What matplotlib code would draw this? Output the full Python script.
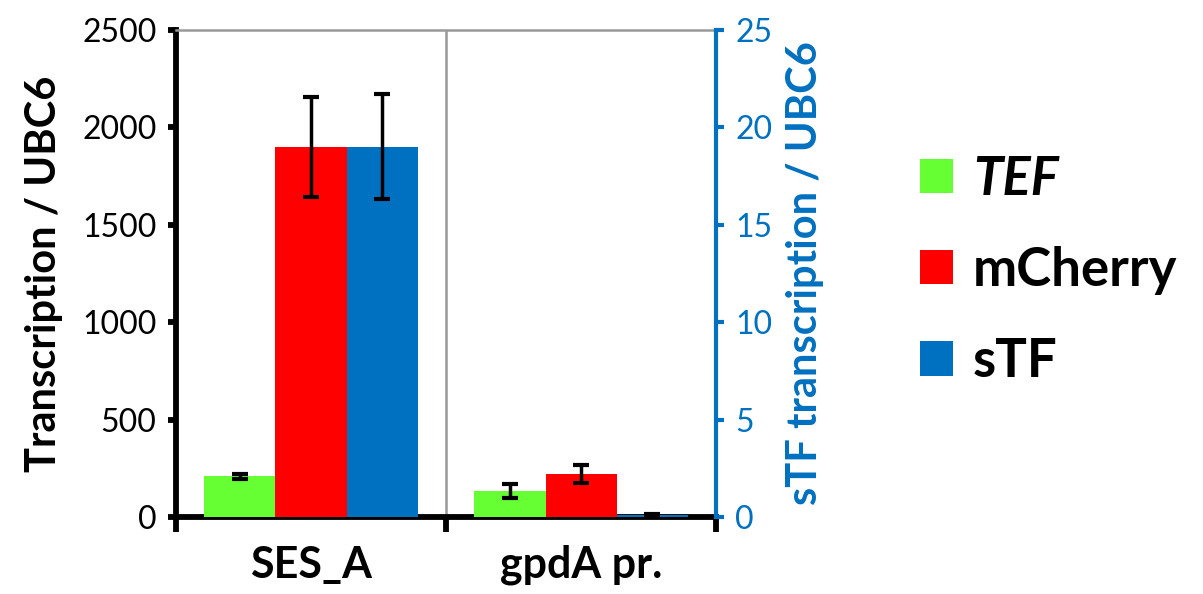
import matplotlib.pyplot as plt
import numpy as np

plt.rcParams['font.family'] = ['Lato', 'DejaVu Sans']

groups = ["SES_A", "gpdA pr."]
tef = [208, 135]
tef_err = [15, 35]
mcherry = [1900, 222]
mcherry_err = [255, 45]
# sTF on the right axis
stf = [19.0, 0.08]
stf_err = [2.7, 0.1]

c_tef = "#66ff33"
c_mch = "#ff0000"
c_stf = "#0070c0"

fig = plt.figure(figsize=(12.03, 5.94), dpi=100)
ax = fig.add_axes([0.1463, 0.1296, 0.4489, 0.8199])
ax2 = ax.twinx()

x = np.arange(len(groups))
w = 0.263
ekw = dict(elinewidth=2.5, capthick=3, capsize=6, ecolor="black")

b1 = ax.bar(x - w, tef, w, color=c_tef, yerr=tef_err, error_kw=ekw, label="TEF", zorder=3)
b2 = ax.bar(x, mcherry, w, color=c_mch, yerr=mcherry_err, error_kw=ekw, label="mCherry", zorder=3)
b3 = ax2.bar(x + w, stf, w, color=c_stf, yerr=stf_err, error_kw=ekw, label="sTF", zorder=3)

ax.set_xlim(-0.5, 1.5)
ax.set_ylim(0, 2500)
ax2.set_ylim(0, 25)
ax.set_yticks(np.arange(0, 2501, 500))
ax2.set_yticks(np.arange(0, 26, 5))

ax.axvline(0.5, color="#999999", lw=1.8, zorder=1)

ax.spines["top"].set_color("#999999")
ax.spines["top"].set_linewidth(1.8)
ax2.spines["top"].set_visible(False)
ax.spines["right"].set_visible(False)
ax2.spines["left"].set_visible(False)
ax2.spines["bottom"].set_visible(False)
ax.spines["left"].set_linewidth(4.2)
ax.spines["bottom"].set_linewidth(4.2)
ax2.spines["right"].set_linewidth(3)
ax2.spines["right"].set_color(c_stf)

ax.set_xticks([-0.5, 0.5, 1.5])
ax.set_xticklabels([])
ax.set_xticks(x, minor=True)
ax.set_xticklabels(groups, minor=True, fontsize=31, fontweight="bold")
ax.tick_params(axis="x", which="major", length=11, width=4.2, direction="out")
ax.tick_params(axis="x", which="minor", length=0, pad=20)

ax.tick_params(axis="y", length=6, width=4.2, labelsize=23, pad=8)
ax2.tick_params(axis="y", length=6, width=3, color=c_stf, labelcolor=c_stf, labelsize=23, pad=8)

ax.set_ylabel("Transcription / UBC6", fontsize=30, fontweight="bold", labelpad=14)
ax2.set_ylabel("sTF transcription / UBC6", fontsize=30, fontweight="bold", color=c_stf, labelpad=10)

leg = fig.legend([b1, b2, b3], ["TEF", "mCherry", "sTF"], loc="center left",
                 bbox_to_anchor=(0.765, 0.545), frameon=False, fontsize=38, borderpad=0,
                 borderaxespad=0, handlelength=0.62, handleheight=0.62,
                 handletextpad=0.38, labelspacing=0.8)
for t in leg.get_texts():
    t.set_fontweight("bold")
leg.get_texts()[0].set_fontstyle("italic")

fig.savefig("out.png", dpi=100)
